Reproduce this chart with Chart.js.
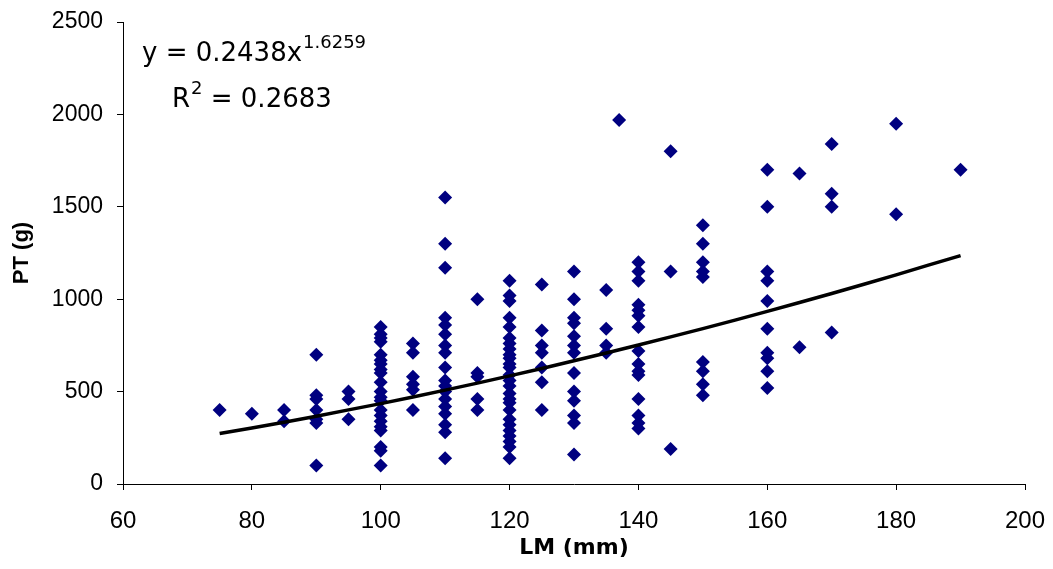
<!DOCTYPE html>
<html>
<head>
<meta charset="utf-8">
<script src="https://cdn.jsdelivr.net/npm/chart.js@4.4.1/dist/chart.umd.min.js"></script>
<style>
  html, body { margin: 0; padding: 0; background: #ffffff; }
  #wrap { width: 1053px; height: 569px; position: relative; }
</style>
</head>
<body>
<div id="wrap"><canvas id="c" width="1053" height="569"></canvas></div>
<script>
// ---- Data ----
// LM (mm) columns and the PT (g) values observed at each
const lm075 = [400];
const lm080 = [380];
const lm085 = [400, 340];
const lm090 = [700, 480, 460, 400, 350, 330, 100];
const lm095 = [500, 460, 350];
const lm100 = [850, 810, 790, 770, 700, 670, 650, 620, 600, 550, 500, 470, 450, 400, 370, 340, 310, 290, 200, 180, 100];
const lm105 = [760, 710, 580, 540, 510, 400];
const lm110 = [1550, 1300, 1170, 900, 860, 810, 750, 710, 630, 560, 530, 500, 460, 420, 380, 320, 280, 140];
const lm115 = [1000, 600, 580, 460, 400];
const lm120 = [1100, 1020, 990, 900, 850, 790, 760, 730, 700, 680, 650, 630, 590, 560, 530, 490, 460, 440, 400, 350, 320, 290, 260, 230, 200, 140];
const lm125 = [1080, 830, 750, 710, 630, 550, 400];
const lm130 = [1150, 1000, 900, 870, 800, 750, 710, 600, 500, 450, 370, 330, 160];
const lm135 = [1050, 840, 750, 710];
const lm137 = [1970];
const lm140 = [1200, 1150, 1100, 970, 940, 910, 850, 720, 650, 610, 590, 460, 370, 330, 300];
const lm145 = [1800, 1150, 190];
const lm150 = [1400, 1300, 1200, 1150, 1120, 660, 610, 540, 480];
const lm160 = [1700, 1500, 1150, 1100, 990, 840, 710, 680, 610, 520];
const lm165 = [1680, 740];
const lm170 = [1840, 1570, 1500, 820];
const lm180 = [1950, 1460];
const lm190 = [1700];

const columns = [
  [75, lm075], [80, lm080], [85, lm085], [90, lm090], [95, lm095],
  [100, lm100], [105, lm105], [110, lm110], [115, lm115], [120, lm120],
  [125, lm125], [130, lm130], [135, lm135], [137, lm137], [140, lm140],
  [145, lm145], [150, lm150], [160, lm160], [165, lm165], [170, lm170],
  [180, lm180], [190, lm190]
];

// Power trendline as drawn in the reference
const trendX = [75, 80, 85, 90, 95, 100, 105, 110, 115, 120, 125, 130, 135, 140, 145, 150, 155, 160, 165, 170, 175, 180, 185, 190];
const trendY = [273, 303, 334, 367, 401, 435, 471, 508, 546, 585, 625, 667, 709, 752, 796, 841, 887, 934, 982, 1031, 1081, 1132, 1184, 1236];

// Axis tick values
const xTicks = [60, 80, 100, 120, 140, 160, 180, 200];
const yTicks = [0, 500, 1000, 1500, 2000, 2500];

// Text
const eqMain = 'y = 0.2438x';
const eqExp = '1.6259';
const r2Main = 'R';
const r2Exp = '2';
const r2Rest = ' = 0.2683';
const xTitle = 'LM (mm)';
const yTitle = 'PT (g)';

// ---- Build datasets ----
const scatterPts = [];
columns.forEach(([x, vals]) => vals.forEach(v => scatterPts.push({ x: x, y: v })));
const trendPts = trendX.map((x, i) => ({ x: x, y: trendY[i] }));

const equationPlugin = {
  id: 'equation',
  afterDraw(chart) {
    const ctx = chart.ctx;
    ctx.save();
    ctx.fillStyle = '#000';
    ctx.textBaseline = 'alphabetic';
    ctx.textAlign = 'left';
    // line 1
    ctx.font = '26px "DejaVu Sans"';
    let x = 142, y = 61;
    ctx.fillText(eqMain, x, y);
    x += ctx.measureText(eqMain).width;
    ctx.font = '18px "DejaVu Sans"';
    ctx.fillText(eqExp, x + 1, y - 13);
    // line 2
    ctx.font = '26px "DejaVu Sans"';
    x = 172; y = 107;
    ctx.fillText(r2Main, x, y);
    x += ctx.measureText(r2Main).width;
    ctx.font = '18px "DejaVu Sans"';
    ctx.fillText(r2Exp, x + 1, y - 13);
    x += ctx.measureText(r2Exp).width + 1;
    ctx.font = '26px "DejaVu Sans"';
    ctx.fillText(r2Rest, x, y);
    ctx.restore();
  }
};

new Chart(document.getElementById('c'), {
  type: 'scatter',
  data: {
    datasets: [
      {
        type: 'line',
        data: trendPts,
        borderColor: '#000000',
        borderWidth: 3.5,
        pointRadius: 0,
        fill: false,
        tension: 0,
        order: 0
      },
      {
        data: scatterPts,
        pointStyle: 'rectRot',
        pointRadius: 7,
        pointHoverRadius: 7,
        backgroundColor: '#000080',
        borderColor: '#000080',
        borderWidth: 0,
        order: 1
      }
    ]
  },
  options: {
    responsive: false,
    animation: false,
    devicePixelRatio: 1,
    layout: { padding: { left: 0, right: 28, top: 22, bottom: 0 } },
    plugins: { legend: { display: false }, tooltip: { enabled: false } },
    scales: {
      x: {
        type: 'linear',
        min: 60, max: 200,
        afterBuildTicks(s) { s.ticks = xTicks.map(v => ({ value: v })); },
        afterFit(s) { s.height = 85; s.paddingLeft = 0; s.paddingRight = 0; },
        border: { display: true, color: '#000', width: 1 },
        grid: { display: true, drawOnChartArea: false, drawTicks: true, tickLength: 6, color: '#000' },
        ticks: { color: '#000', padding: 17, maxRotation: 0, callback: v => String(v), font: { family: '"Liberation Sans"', size: 24 } },
        title: { display: true, text: xTitle, color: '#000', padding: { top: 0, bottom: 8 }, font: { family: '"DejaVu Sans"', size: 22, weight: 'bold' } }
      },
      y: {
        type: 'linear',
        min: 0, max: 2500,
        afterBuildTicks(s) { s.ticks = yTicks.map(v => ({ value: v })); },
        afterFit(s) { s.width = 123; s.paddingTop = 0; s.paddingBottom = 0; },
        border: { display: true, color: '#000', width: 1 },
        grid: { display: true, drawOnChartArea: false, drawTicks: true, tickLength: 6, color: '#000' },
        ticks: { color: '#000', padding: 14, callback: v => String(v), font: { family: '"Liberation Sans"', size: 23 } },
        title: { display: true, text: yTitle, color: '#000', padding: { top: 9, bottom: 0 }, font: { family: '"Liberation Sans"', size: 22, weight: 'bold' } }
      }
    }
  },
  plugins: [equationPlugin]
});
</script>
</body>
</html>
